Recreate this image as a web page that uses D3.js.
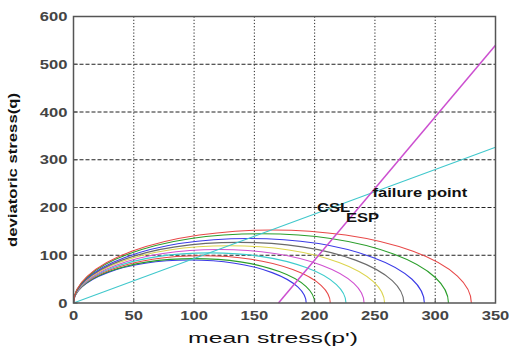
<!DOCTYPE html>
<html>
<head>
<meta charset="utf-8">
<script src="https://cdn.jsdelivr.net/npm/d3@7"></script>
<style>
  body { margin: 0; background: #fff; }
  svg { display: block; }
</style>
</head>
<body>
<div id="app"></div>
<script>
// yield loci: end point p0 and peak q of each curve (inner -> outer)
const p0Values = [193, 200, 213, 226, 241, 258, 274, 291, 311, 330];
const qPeaks   = [90, 93, 99, 105, 112, 120, 127, 135, 145, 153];
const curveColors = ["#3a3ae6", "#2a9e2a", "#e84848", "#3ccccc", "#d050d0", "#dcd44c", "#6a6a6a", "#3a3ae6", "#2a9e2a", "#e84848"];

// critical state line and effective stress path (end points)
const cslPoints = [[0, 0], [350, 326]];
const espPoints = [[170, 0], [350, 540]];

const xTicks = [0, 50, 100, 150, 200, 250, 300, 350];
const yTicks = [0, 100, 200, 300, 400, 500, 600];

const labels = [
  {text: "CSL", p: 202, q: 191},
  {text: "ESP", p: 226, q: 169},
  {text: "failure point", p: 248, q: 221}
];

const width = 509, height = 347;
const margin = {top: 16.5, right: 13.5, bottom: 44, left: 73.5};
const stretch = 1.38; // glyphs in the picture are drawn wide

const svg = d3.select("#app").append("svg")
    .attr("width", width)
    .attr("height", height);

const x = d3.scaleLinear().domain([0, 350]).range([margin.left, width - margin.right]);
const y = d3.scaleLinear().domain([0, 600]).range([height - margin.bottom, margin.top]);

// grid
svg.append("g")
    .selectAll("line")
    .data(xTicks.slice(1, -1))
    .join("line")
    .attr("x1", d => x(d)).attr("x2", d => x(d))
    .attr("y1", y(600)).attr("y2", y(0))
    .attr("stroke", "#222")
    .attr("stroke-width", 1)
    .attr("stroke-dasharray", "1.2,2");

svg.append("g")
    .selectAll("line")
    .data(yTicks.slice(1, -1))
    .join("line")
    .attr("x1", x(0)).attr("x2", x(350))
    .attr("y1", d => y(d)).attr("y2", d => y(d))
    .attr("stroke", "#222")
    .attr("stroke-width", 1)
    .attr("stroke-dasharray", "4,2");

// yield curves, half ellipses from (0,0) to (p0,0)
svg.append("g")
    .attr("fill", "none")
    .attr("stroke-width", 1.1)
    .selectAll("path")
    .data(p0Values)
    .join("path")
    .attr("stroke", (d, i) => curveColors[i])
    .attr("d", (d, i) => {
        const rx = x(d / 2) - x(0);
        const ry = y(0) - y(qPeaks[i]);
        return `M${x(0)},${y(0)} A${rx},${ry} 0 0 1 ${x(d)},${y(0)}`;
    });

const line = d3.line().x(d => x(d[0])).y(d => y(d[1]));

svg.append("path")
    .datum(cslPoints)
    .attr("d", line)
    .attr("fill", "none")
    .attr("stroke", "#40c8cc")
    .attr("stroke-width", 1.1);

svg.append("path")
    .datum(espPoints)
    .attr("d", line)
    .attr("fill", "none")
    .attr("stroke", "#cc4fd0")
    .attr("stroke-width", 1.5);

// frame
svg.append("rect")
    .attr("x", x(0)).attr("y", y(600))
    .attr("width", x(350) - x(0))
    .attr("height", y(0) - y(600))
    .attr("fill", "none")
    .attr("stroke", "#555")
    .attr("stroke-width", 1.5);

// inward ticks
svg.append("g").selectAll("line")
    .data(xTicks)
    .join("line")
    .attr("x1", d => x(d)).attr("x2", d => x(d))
    .attr("y1", y(0)).attr("y2", y(0) - 4)
    .attr("stroke", "#555");
svg.append("g").selectAll("line")
    .data(yTicks)
    .join("line")
    .attr("x1", x(0)).attr("x2", x(0) + 4)
    .attr("y1", d => y(d)).attr("y2", d => y(d))
    .attr("stroke", "#555");

// tick labels
svg.append("g")
    .selectAll("text")
    .data(xTicks)
    .join("text")
    .attr("transform", d => `translate(${x(d)},${y(0) + 17}) scale(${stretch},1)`)
    .attr("text-anchor", "middle")
    .attr("font-family", "Liberation Sans, Arial, sans-serif")
    .attr("font-size", 12)
    .attr("font-weight", "bold")
    .attr("fill", "#444")
    .text(d => d);

svg.append("g")
    .selectAll("text")
    .data(yTicks)
    .join("text")
    .attr("transform", d => `translate(${x(0) - 6},${y(d) + 4.5}) scale(${stretch},1)`)
    .attr("text-anchor", "end")
    .attr("font-family", "Liberation Sans, Arial, sans-serif")
    .attr("font-size", 12)
    .attr("font-weight", "bold")
    .attr("fill", "#444")
    .text(d => d);

// axis titles
svg.append("text")
    .attr("x", 273)
    .attr("y", 343)
    .attr("text-anchor", "middle")
    .attr("font-family", "Liberation Sans, Arial, sans-serif")
    .attr("font-size", 15)
    .attr("fill", "#111")
    .attr("textLength", 170)
    .attr("lengthAdjust", "spacingAndGlyphs")
    .text("mean stress(p')");

svg.append("text")
    .attr("transform", "translate(17,170) rotate(-90)")
    .attr("text-anchor", "middle")
    .attr("font-family", "Liberation Sans Narrow, Liberation Sans, Arial, sans-serif")
    .attr("font-size", 12)
    .attr("font-weight", "bold")
    .attr("fill", "#111")
    .attr("textLength", 154)
    .attr("lengthAdjust", "spacingAndGlyphs")
    .text("deviatoric stress(q)");

// annotations
svg.append("g")
    .selectAll("text")
    .data(labels)
    .join("text")
    .attr("transform", d => `translate(${x(d.p)},${y(d.q)}) scale(${stretch},1)`)
    .attr("font-family", "Liberation Sans, Arial, sans-serif")
    .attr("font-size", 12)
    .attr("font-weight", "bold")
    .attr("fill", "#111")
    .text(d => d.text);
</script>
</body>
</html>
